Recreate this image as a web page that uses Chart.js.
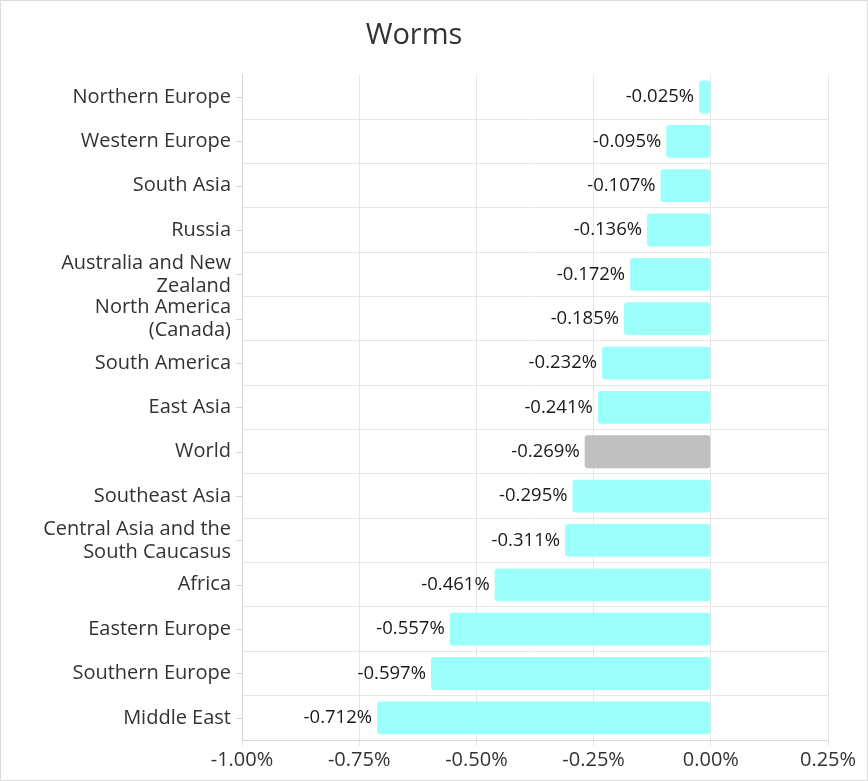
<!DOCTYPE html>
<html>
<head>
<meta charset="utf-8">
<script src="https://cdn.jsdelivr.net/npm/chart.js@4/dist/chart.umd.min.js"></script>
<style>
  html, body { margin: 0; padding: 0; background: #fff; }
  #wrap { width: 868px; height: 781px; }
</style>
</head>
<body>
<div id="wrap"><canvas id="chart" width="868" height="781"></canvas></div>
<script>
// Data
const regions = [
  'Northern Europe', 'Western Europe', 'South Asia', 'Russia',
  ['Australia and New', 'Zealand'], ['North America', '(Canada)'],
  'South America', 'East Asia', 'World', 'Southeast Asia',
  ['Central Asia and the', 'South Caucasus'], 'Africa',
  'Eastern Europe', 'Southern Europe', 'Middle East'
];
const changes = [
  -0.025, -0.095, -0.107, -0.136, -0.172, -0.185, -0.232, -0.241,
  -0.269, -0.295, -0.311, -0.461, -0.557, -0.597, -0.712
];
const xTicks = [-1.0, -0.75, -0.5, -0.25, 0, 0.25];

const FONT = '"Open Sans", sans-serif';
const barColors = regions.map(r => r === 'World' ? '#c0c0c0' : '#9bfffa');

// value labels left of each bar
const valueLabels = {
  id: 'valueLabels',
  afterDatasetsDraw(chart) {
    const ctx = chart.ctx;
    const meta = chart.getDatasetMeta(0);
    ctx.save();
    ctx.font = '18.5px ' + FONT;
    ctx.fillStyle = '#1a1a1a';
    ctx.textAlign = 'right';
    ctx.textBaseline = 'middle';
    meta.data.forEach((bar, i) => {
      ctx.fillText(changes[i].toFixed(3) + '%', bar.x - 5, bar.y);
    });
    ctx.restore();
  }
};

// small tick marks at category centres + outer frame
const extras = {
  id: 'extras',
  afterDraw(chart) {
    const ctx = chart.ctx;
    const y = chart.scales.y;
    ctx.save();
    ctx.strokeStyle = '#d6d6d6';
    ctx.lineWidth = 1;
    regions.forEach((r, i) => {
      const py = Math.round(y.getPixelForValue(i)) + 0.5;
      ctx.beginPath();
      ctx.moveTo(y.right - 6, py);
      ctx.lineTo(y.right, py);
      ctx.stroke();
    });
    ctx.strokeStyle = '#dcdcdc';
    ctx.strokeRect(0.5, 0.5, chart.width - 1, chart.height - 1);
    ctx.restore();
  }
};

new Chart(document.getElementById('chart'), {
  type: 'bar',
  data: {
    labels: regions,
    datasets: [{
      data: changes,
      backgroundColor: barColors,
      borderRadius: 3,
      borderSkipped: false,
      barPercentage: 0.74,
      categoryPercentage: 1
    }]
  },
  options: {
    indexAxis: 'y',
    responsive: false,
    animation: false,
    layout: { padding: { left: 0, right: 40, top: 0, bottom: 0 } },
    plugins: {
      legend: { display: false },
      tooltip: { enabled: false },
      title: {
        display: true,
        text: 'Worms',
        color: '#333',
        font: { family: FONT, size: 29, weight: 'normal' },
        padding: { top: 18, bottom: 22 }
      }
    },
    scales: {
      x: {
        min: -1.0,
        max: 0.25,
        afterBuildTicks: (scale) => { scale.ticks = xTicks.map(v => ({ value: v })); },
        afterFit: (scale) => { scale.height = 41; },
        grid: { color: '#e6e6e6', tickLength: 6 },
        border: { color: '#d6d6d6' },
        ticks: {
          color: '#333',
          font: { family: FONT, size: 20 },
          padding: 2,
          callback: (v) => v.toFixed(2) + '%'
        }
      },
      y: {
        afterFit: (scale) => { scale.width = 242; },
        grid: {
          offset: true,
          drawTicks: false,
          color: (c) => c.index === 0 ? 'rgba(0,0,0,0)' : '#e6e6e6'
        },
        border: { color: '#d6d6d6' },
        ticks: {
          autoSkip: false,
          color: '#333',
          font: { family: FONT, size: 20, lineHeight: 1.15 },
          padding: 11
        }
      }
    }
  },
  plugins: [valueLabels, extras]
});
</script>
</body>
</html>
